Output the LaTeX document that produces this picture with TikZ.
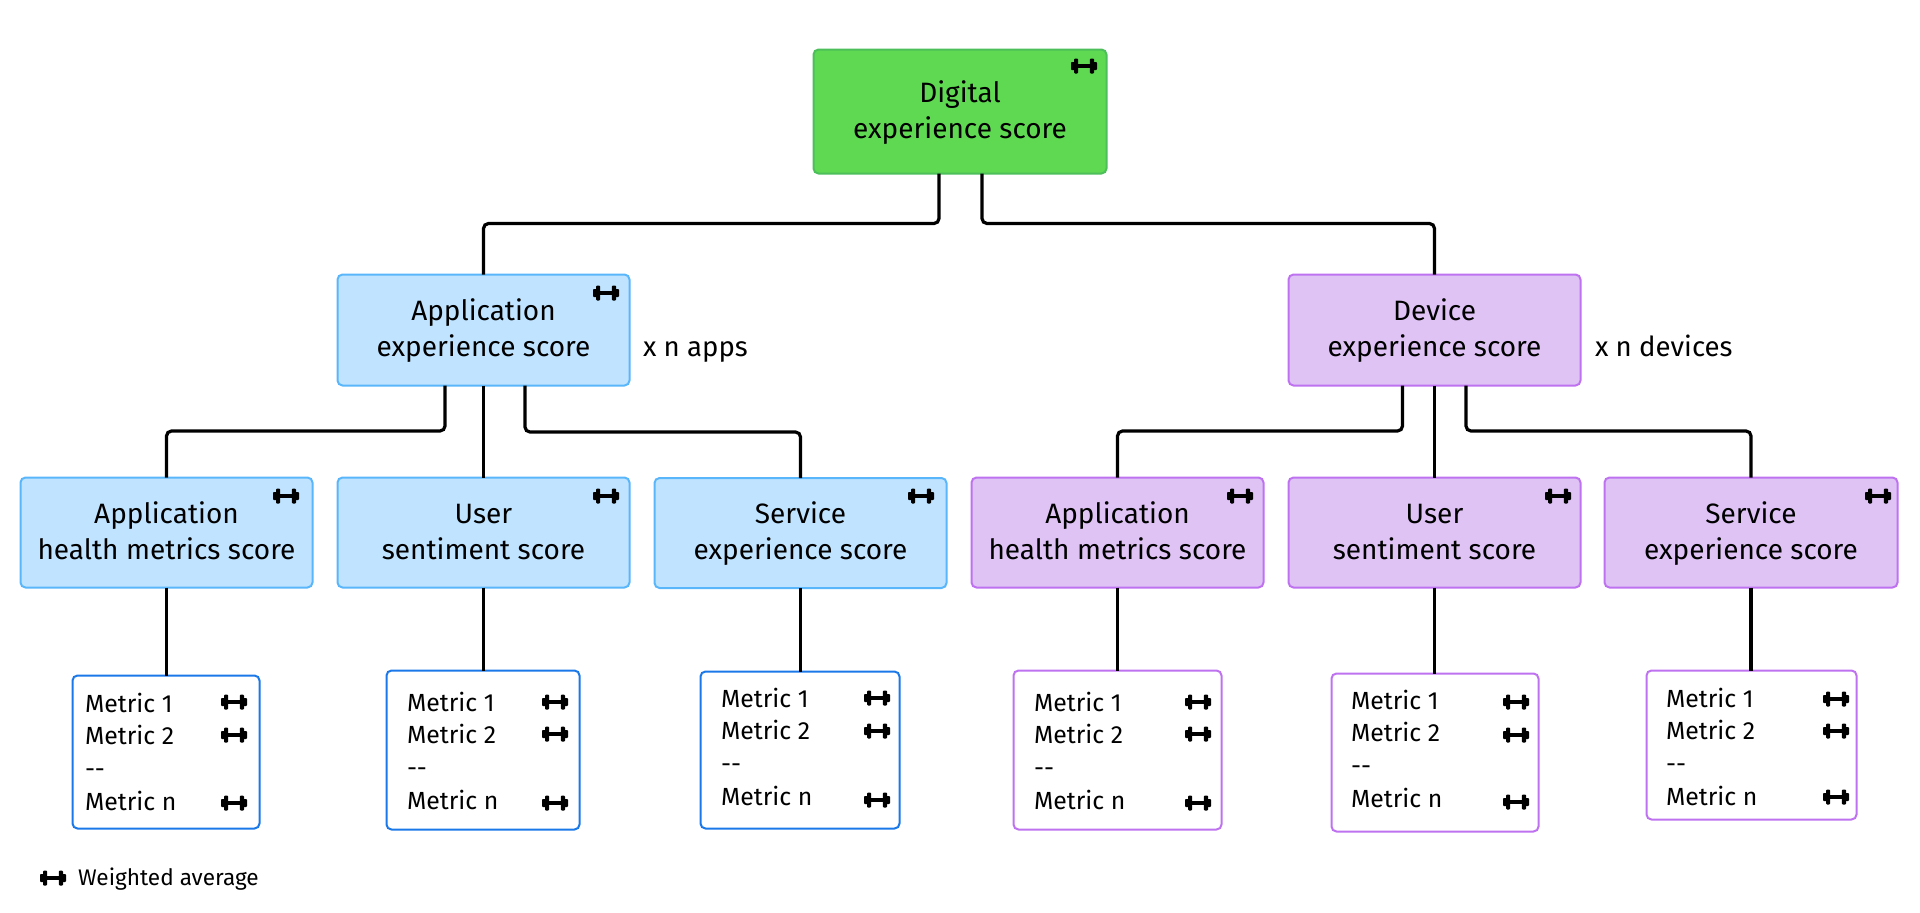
\documentclass[tikz,border=0pt]{standalone}
\usepackage{fontspec}
\setmainfont{Fira Sans}
\definecolor{greenfill}{HTML}{5FD952}
\definecolor{greenline}{HTML}{4CBF5A}
\definecolor{bluefill}{HTML}{C0E4FF}
\definecolor{blueline}{HTML}{5AB6FB}
\definecolor{purplefill}{HTML}{DFC3F5}
\definecolor{purpleline}{HTML}{BE72F0}
\definecolor{metricblue}{HTML}{1B78E8}
\newcommand\lstrut{\rule[-9.5pt]{0pt}{36pt}}
\newcommand\mstrut{\rule[-8pt]{0pt}{32.7pt}}
\newcommand\twolines[2]{\lstrut #1\\\lstrut #2}
\newcommand\boxat[7][]{% style, name, x1,y1,x2,y2, text
  \node[scorebox,#1,minimum width={#5-#3-1},minimum height={#6-#4-1}] (#2) at ({(#3+#5)/2},{(#4+#6)/2}) {#7};}
\newcommand\metricat[8]{% style,name,x1,y1,x2,y2,textx,base1
  \node[metricbox,#1,minimum width={#5-#3-1},minimum height={#6-#4-1}] (#2) at ({(#3+#5)/2},{(#4+#6)/2}) {};
  \node[metrictext,anchor=north west] (#2text) at (#7,{#8-24.7})
    {\mstrut Metric 1\\\mstrut Metric 2\\\mstrut -{}-\\\mstrut Metric n};}
\tikzset{
  dumbbell/.pic={
    \fill[black] (-8,-1.7) rectangle (8,1.7);
    \fill[black,rounded corners=1pt] (-10,-7.5) rectangle (-5.8,7.5);
    \fill[black,rounded corners=1pt] (5.8,-7.5) rectangle (10,7.5);
    \fill[black,rounded corners=0.8pt] (-13,-4) rectangle (-9,4);
    \fill[black,rounded corners=0.8pt] (9,-4) rectangle (13,4);
  },
  scorebox/.style={draw,line width=2pt,rounded corners=5pt,inner sep=0pt,outer sep=0pt,align=center,
    font=\fontsize{28}{36}\selectfont},
  greenbox/.style={fill=greenfill,draw=greenline},
  bluebox/.style={fill=bluefill,draw=blueline},
  purplebox/.style={fill=purplefill,draw=purpleline},
  metricbox/.style={draw,fill=white,line width=2pt,rounded corners=5pt,inner sep=0pt,outer sep=0pt},
  metrictext/.style={inner sep=0pt,outer sep=0pt,align=left,font=\fontsize{24.8}{32.7}\selectfont},
  sidetext/.style={inner sep=0pt,outer sep=0pt,anchor=base west,font=\fontsize{27.6}{36}\selectfont},
  legendtext/.style={inner sep=0pt,outer sep=0pt,anchor=base west,font=\fontsize{22.6}{24}\selectfont},
  link/.style={draw=black,line width=3.2pt,rounded corners=5pt},
}
\begin{document}
\begin{tikzpicture}[x=1pt,y=-1pt]
\useasboundingbox (0,0) rectangle (1920,913);
% score boxes
\boxat[greenbox]{root}{813}{49}{1107}{174}{\twolines{Digital}{experience score}}
\boxat[bluebox]{appexp}{337}{274}{630}{386}{\twolines{Application}{experience score}}
\boxat[purplebox]{devexp}{1288}{274}{1581}{386}{\twolines{Device}{experience score}}
\boxat[bluebox]{bhealth}{20}{477}{313}{588}{\twolines{Application}{health metrics score}}
\boxat[bluebox]{buser}{337}{477}{630}{588}{\twolines{User}{sentiment score}}
\boxat[bluebox]{bservice}{654}{477.5}{947}{588.5}{\twolines{Service}{experience score}}
\boxat[purplebox]{phealth}{971}{477}{1264}{588}{\twolines{Application}{health metrics score}}
\boxat[purplebox]{puser}{1288}{477}{1581}{588}{\twolines{User}{sentiment score}}
\boxat[purplebox]{pservice}{1604}{477}{1898}{588}{\twolines{Service}{experience score}}
% side labels
\node[sidetext] (apps) at (643,356) {x n apps};
\node[sidetext] (devices) at (1595,356) {x n devices};
% metric boxes
\metricat{draw=metricblue}{mb1}{72}{675}{260}{829}{85}{712}
\metricat{draw=metricblue}{mb2}{386}{670}{580}{830}{407}{711}
\metricat{draw=metricblue}{mb3}{700}{671}{900}{829}{721}{707}
\metricat{draw=purpleline}{mp1}{1013}{670}{1222}{830}{1034}{711}
\metricat{draw=purpleline}{mp2}{1331}{673}{1539}{832}{1351}{709}
\metricat{draw=purpleline}{mp3}{1646}{670}{1857}{820}{1666}{707}
% connectors
\draw[link] ([xshift=-21pt]root.south) -- ++(0,50) -| (appexp.north);
\draw[link] ([xshift=22pt]root.south) -- ++(0,50) -| (devexp.north);
\draw[link] ([xshift=-38.5pt]appexp.south) -- ++(0,45.5) -| (bhealth.north);
\draw[link] (appexp.south) -- (buser.north);
\draw[link] ([xshift=41.5pt]appexp.south) -- ++(0,46.5) -| (bservice.north);
\draw[link] ([xshift=-32pt]devexp.south) -- ++(0,45.5) -| (phealth.north);
\draw[link] (devexp.south) -- (puser.north);
\draw[link] ([xshift=31.5pt]devexp.south) -- ++(0,45.5) -| (pservice.north);
\draw[link] (bhealth.south) -- (bhealth.south |- mb1.north);
\draw[link] (buser.south) -- (buser.south |- mb2.north);
\draw[link] (bservice.south) -- (bservice.south |- mb3.north);
\draw[link] (phealth.south) -- (phealth.south |- mp1.north);
\draw[link] (puser.south) -- (puser.south |- mp2.north);
\draw[link] (pservice.south) -- (pservice.south |- mp3.north);
% dumbbells on score boxes
\foreach \x/\y in {1084/66,606/293,286/496,606/496,921/496,1240/496,1558/496,1878/496}
  \pic at (\x,\y) {dumbbell};
% dumbbells in metric boxes
\foreach \x/\a/\b/\c in {234/702/735/803,555/702/734/803,877/698/731/800,1198/702/734/803,1516/702/735/802,1836/699/731/797}{
  \pic at (\x,\a) {dumbbell};
  \pic at (\x,\b) {dumbbell};
  \pic at (\x,\c) {dumbbell};
}
% legend
\pic at (53,878) {dumbbell};
\node[legendtext] (legend) at (78,885) {Weighted average};
\end{tikzpicture}
\end{document}
